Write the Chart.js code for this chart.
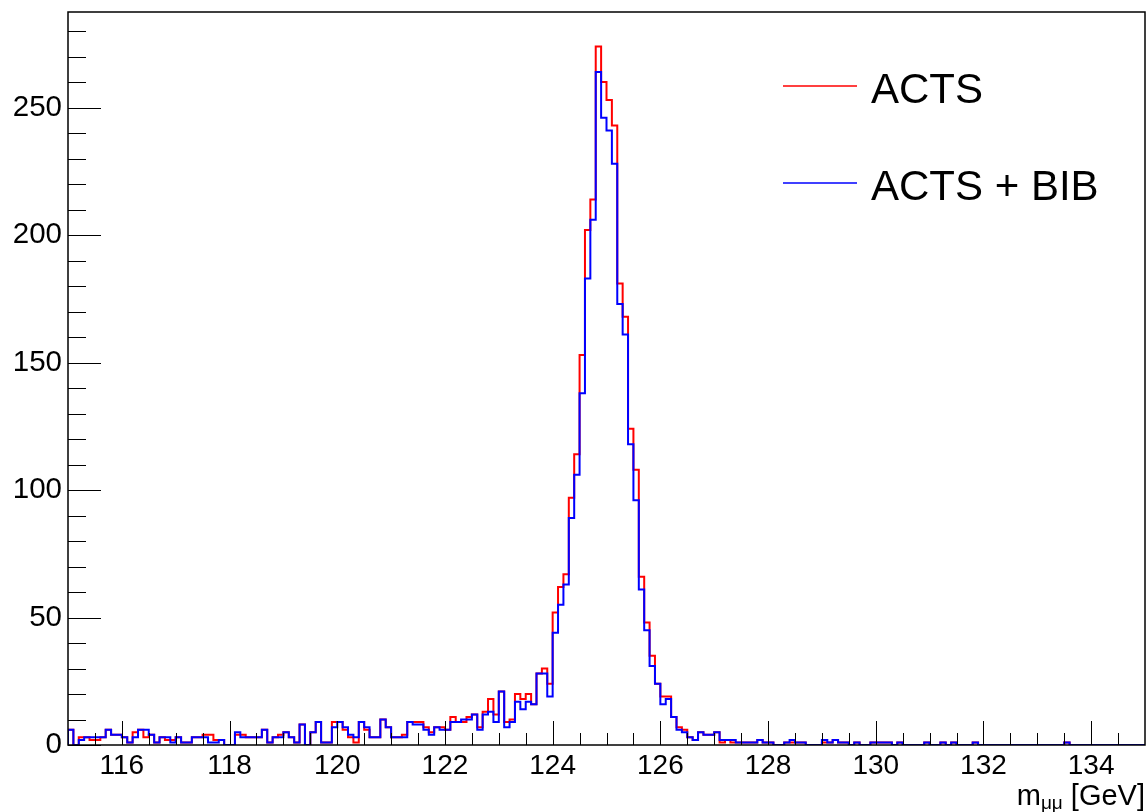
<!DOCTYPE html>
<html>
<head>
<meta charset="utf-8">
<title>m_mumu ACTS vs ACTS + BIB</title>
<script src="https://cdn.jsdelivr.net/npm/chart.js@4.4.1/dist/chart.umd.min.js"></script>
<style>
  html, body { margin: 0; padding: 0; background: #fff; }
  #wrap { width: 1146px; height: 812px; }
</style>
</head>
<body>
<div id="wrap"><canvas id="massChart" width="1146" height="812"></canvas></div>
<script>
// histogram binning: 200 bins of 0.1 GeV from 115 to 135
const binLow = 115;
const binWidth = 0.1;

// ACTS (red), counts per bin
const actsCounts = [
  6, 0, 3, 3, 2, 2, 3, 6, 4, 4,
  3, 1, 5, 6, 3, 4, 1, 3, 2, 2,
  3, 1, 1, 3, 3, 4, 4, 2, 2, 0,
  0, 4, 4, 3, 3, 3, 6, 1, 3, 4,
  5, 3, 1, 8, 0, 5, 9, 1, 1, 9,
  9, 6, 3, 1, 9, 6, 3, 3, 10, 7,
  3, 3, 4, 9, 9, 9, 7, 5, 7, 7,
  6, 11, 9, 9, 11, 12, 7, 13, 18, 12,
  21, 9, 10, 20, 18, 20, 16, 28, 30, 24,
  52, 62, 67, 97, 114, 153, 202, 214, 274, 260,
  253, 243, 181, 168, 124, 108, 66, 48, 35, 24,
  19, 19, 11, 7, 6, 3, 2, 5, 4, 4,
  5, 1, 2, 1, 1, 1, 1, 1, 2, 1,
  1, 0, 0, 1, 1, 1, 1, 0, 0, 0,
  1, 1, 2, 1, 1, 0, 1, 0, 0, 1,
  1, 1, 1, 0, 1, 0, 0, 0, 0, 1,
  0, 0, 1, 0, 1, 0, 0, 0, 1, 0,
  0, 0, 0, 0, 0, 0, 0, 0, 0, 0,
  0, 0, 0, 0, 0, 1, 0, 0, 0, 0,
  0, 0, 0, 0, 0, 0, 0, 0, 0, 0
];

// ACTS + BIB (blue), counts per bin
const actsBibCounts = [
  6, 0, 2, 3, 3, 3, 3, 6, 4, 4,
  3, 1, 3, 6, 6, 4, 1, 3, 3, 1,
  3, 1, 1, 3, 3, 3, 1, 1, 2, 0,
  0, 5, 3, 3, 3, 3, 6, 1, 3, 3,
  5, 3, 1, 8, 0, 5, 9, 1, 1, 7,
  9, 7, 4, 3, 9, 7, 3, 3, 10, 7,
  3, 3, 3, 9, 8, 8, 6, 4, 7, 6,
  6, 9, 9, 10, 10, 12, 6, 12, 13, 9,
  21, 7, 9, 17, 14, 17, 16, 28, 28, 19,
  44, 55, 63, 89, 106, 138, 183, 206, 264, 246,
  241, 228, 173, 161, 118, 96, 61, 45, 31, 24,
  16, 18, 11, 6, 5, 3, 2, 5, 4, 4,
  5, 2, 2, 2, 1, 1, 1, 1, 2, 1,
  1, 0, 0, 1, 2, 1, 1, 0, 0, 0,
  2, 1, 2, 1, 1, 0, 1, 0, 0, 1,
  1, 1, 1, 0, 1, 0, 0, 0, 0, 1,
  0, 0, 1, 0, 1, 0, 0, 0, 1, 0,
  0, 0, 0, 0, 0, 0, 0, 0, 0, 0,
  0, 0, 0, 0, 0, 1, 0, 0, 0, 0,
  0, 0, 0, 0, 0, 0, 0, 0, 0, 0
];

// axis ticks
const xTickLabels = [116, 118, 120, 122, 124, 126, 128, 130, 132, 134];
const yTickLabels = [0, 50, 100, 150, 200, 250];
const xMinorStep = 0.5;
const yMinorStep = 10;
const xRange = [115, 135];
const yRange = [0, 287.5];

const FONT = "'Liberation Sans', Arial, Helvetica, sans-serif";

// turn bin counts into left-edge points for a stepped outline
function histPoints(counts) {
  const pts = [{ x: binLow, y: 0 }];
  counts.forEach((c, i) => pts.push({ x: binLow + i * binWidth, y: c }));
  const hi = binLow + counts.length * binWidth;
  pts.push({ x: hi, y: counts[counts.length - 1] });
  pts.push({ x: hi, y: 0 });
  return pts;
}

// ROOT style frame with ticks pointing inwards
const rootFrame = {
  id: "rootFrame",
  afterDatasetsDraw(chart) {
    const { ctx, chartArea: a } = chart;
    const xs = chart.scales.x, ys = chart.scales.y;
    ctx.save();
    ctx.strokeStyle = "#000";
    ctx.lineWidth = 1;
    ctx.beginPath();
    // x ticks
    for (let v = xRange[0] + xMinorStep; v < xRange[1] - 1e-6; v += xMinorStep) {
      const px = Math.round(xs.getPixelForValue(v)) + 0.5;
      const major = xTickLabels.some((t) => Math.abs(t - v) < 1e-6);
      ctx.moveTo(px, a.bottom);
      ctx.lineTo(px, a.bottom - (major ? 24 : 12));
    }
    // y ticks
    for (let v = yRange[0]; v < yRange[1]; v += yMinorStep) {
      const py = Math.round(ys.getPixelForValue(v)) + 0.5;
      const major = yTickLabels.includes(v);
      ctx.moveTo(a.left, py);
      ctx.lineTo(a.left + (major ? 33 : 18), py);
    }
    ctx.stroke();
    ctx.lineWidth = 1.5;
    ctx.strokeRect(a.left, a.top, a.right - a.left, a.bottom - a.top);
    ctx.restore();
  },
  afterDraw(chart) {
    const { ctx, chartArea: a } = chart;
    ctx.save();
    ctx.fillStyle = "#000";
    ctx.textBaseline = "alphabetic";

    // x axis title m_{mu mu} [GeV], right aligned at the frame edge
    const big = "29px " + FONT, small = "19px " + FONT;
    ctx.font = big;
    const wUnit = ctx.measureText(" [GeV]").width;
    const wM = ctx.measureText("m").width;
    ctx.font = small;
    const wSub = ctx.measureText("\u03bc\u03bc").width;
    let x = a.right - wUnit - wSub - wM;
    const base = 805;
    ctx.font = big;
    ctx.fillText("m", x, base);
    x += wM;
    ctx.font = small;
    ctx.fillText("\u03bc\u03bc", x, base + 4);
    x += wSub;
    ctx.font = big;
    ctx.fillText(" [GeV]", x, base);

    // legend (no box)
    const rows = [
      { ds: chart.data.datasets[0], y: 86 },
      { ds: chart.data.datasets[1], y: 183 }
    ];
    ctx.font = "42px " + FONT;
    rows.forEach((r) => {
      ctx.strokeStyle = r.ds.borderColor;
      ctx.lineWidth = 1.5;
      ctx.beginPath();
      ctx.moveTo(783, r.y);
      ctx.lineTo(857, r.y);
      ctx.stroke();
      ctx.fillText(r.ds.label, 871, r.y + 17);
    });
    ctx.restore();
  }
};

const massCtx = document.getElementById("massChart").getContext("2d");

const massChart = new Chart(massCtx, {
  type: "line",
  data: {
    datasets: [
      {
        label: "ACTS",
        data: histPoints(actsCounts),
        borderColor: "#ff0000",
        borderWidth: 2,
        stepped: "before",
        pointRadius: 0,
        fill: false,
        order: 1
      },
      {
        label: "ACTS + BIB",
        data: histPoints(actsBibCounts),
        borderColor: "#0000ff",
        borderWidth: 2,
        stepped: "before",
        pointRadius: 0,
        fill: false,
        order: 0
      }
    ]
  },
  options: {
    responsive: false,
    animation: false,
    events: [],
    layout: { padding: { top: 12, right: 1, left: 0, bottom: 0 } },
    scales: {
      x: {
        type: "linear",
        min: xRange[0],
        max: xRange[1],
        grid: { display: false, drawTicks: false },
        border: { display: false },
        ticks: {
          color: "#000",
          font: { family: FONT, size: 28 },
          padding: 4,
          maxRotation: 0,
          autoSkip: false
        },
        afterBuildTicks: (scale) => {
          scale.ticks = xTickLabels.map((v) => ({ value: v }));
        },
        afterFit: (scale) => {
          scale.height = 67;
          scale.paddingLeft = 0;
          scale.paddingRight = 0;
        }
      },
      y: {
        min: yRange[0],
        max: yRange[1],
        grid: { display: false, drawTicks: false },
        border: { display: false },
        ticks: {
          color: "#000",
          font: { family: FONT, size: 29.5 },
          padding: 6
        },
        afterBuildTicks: (scale) => {
          scale.ticks = yTickLabels.map((v) => ({ value: v }));
        },
        afterFit: (scale) => {
          scale.width = 68;
          scale.paddingTop = 0;
          scale.paddingBottom = 0;
        }
      }
    },
    plugins: {
      legend: { display: false },
      tooltip: { enabled: false }
    }
  },
  plugins: [rootFrame]
});
</script>
</body>
</html>
